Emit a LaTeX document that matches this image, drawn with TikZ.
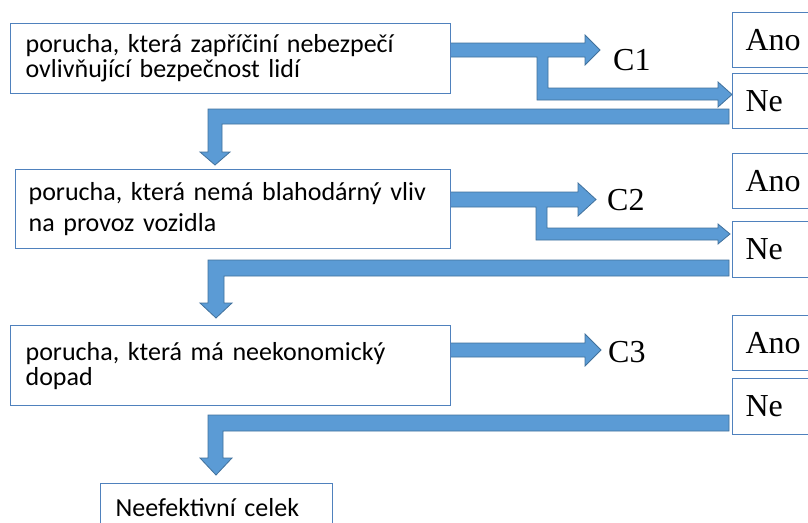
\documentclass[tikz,border=0pt]{standalone}
\usepackage{fontspec}
\setmainfont{Carlito}
\newfontfamily\serifx{Liberation Serif}
\definecolor{arrowfill}{HTML}{5B9BD5}
\definecolor{arrowline}{HTML}{41719C}
\definecolor{boxline}{HTML}{4F81BD}
\begin{document}
\begin{tikzpicture}[x=1pt,y=-1pt,
  blockarrow/.style={fill=arrowfill, draw=arrowline, line width=0.8pt, line join=miter},
  qbox/.style={draw=boxline, line width=1.2pt, fill=white, anchor=north west, inner ysep=0pt, align=left},
  ansbox/.style={draw=boxline, line width=1.2pt, fill=white, anchor=north west, inner ysep=0pt, inner xsep=13pt,
    text width=64pt, minimum height=55pt, align=left, font=\serifx\fontsize{32}{36}\selectfont},
  clabel/.style={anchor=base west, inner sep=0pt, font=\serifx\fontsize{32}{36}\selectfont}]
\clip (0,0) rectangle (808,522);
\fill[white] (0,0) rectangle (808,522);

% arrows
\path[blockarrow] (450,43) -- (585,43) -- (585,35) -- (600,50) -- (585,65) -- (585,57) -- (548,57) -- (548,88) -- (718,88) -- (718,82) -- (732,94.5) -- (718,107) -- (718,100) -- (537,100) -- (537,57) -- (450,57) -- cycle;
\path[blockarrow] (729,109) -- (729,124) -- (222,124) -- (222,152) -- (230,152) -- (215,165) -- (200,152) -- (208,152) -- (208,109) -- cycle;
\path[blockarrow] (450,192) -- (578,192) -- (578,183) -- (596,199.5) -- (578,216) -- (578,207) -- (547,207) -- (547,228) -- (718,228) -- (718,224) -- (730,234) -- (718,244) -- (718,240) -- (536,240) -- (536,207) -- (450,207) -- cycle;
\path[blockarrow] (729,260) -- (729,276) -- (224,276) -- (224,303) -- (232,303) -- (216,318) -- (200,303) -- (208,303) -- (208,260) -- cycle;
\path[blockarrow] (450,343) -- (585,343) -- (585,334) -- (601,350) -- (585,366) -- (585,357) -- (450,357) -- cycle;
\path[blockarrow] (729,415) -- (729,431) -- (223,431) -- (223,458) -- (232,458) -- (216,475) -- (200,458) -- (208,458) -- (208,415) -- cycle;

% question boxes
\node[qbox, inner xsep=15pt, text width=410pt, minimum height=70pt, font=\fontsize{26}{25}\selectfont] (b1) at (10,23)
  {porucha, která zapříčiní nebezpečí\\ovlivňující bezpečnost lidí};
\node[qbox, inner xsep=13pt, text width=409pt, minimum height=79pt, font=\fontsize{26}{31}\selectfont] (b2) at (15,169)
  {porucha, která nemá blahodárný vliv\\na provoz vozidla};
\node[qbox, inner xsep=15pt, text width=410pt, minimum height=80pt, font=\fontsize{26}{25}\selectfont] (b3) at (10,325)
  {porucha, která má neekonomický\\dopad};
\node[qbox, inner xsep=15pt, text width=202pt, minimum height=48pt, font=\fontsize{26}{25}\selectfont] (b4) at (100,483)
  {Neefektivní celek};
\path[draw=boxline, line width=1.2pt] (b4.south west) -- ++(0,20) (b4.south east) -- ++(0,20);

% answer boxes
\node[ansbox] (ano1) at (732,12) {Ano};
\node[ansbox] (ne1) at (732,73) {Ne};
\node[ansbox] (ano2) at (732,153) {Ano};
\node[ansbox, minimum height=56pt] (ne2) at (732,221) {Ne};
\node[ansbox] (ano3) at (732,315) {Ano};
\node[ansbox, minimum height=56pt] (ne3) at (732,378) {Ne};

% labels
\node[clabel] (c1) at (613,70) {C1};
\node[clabel] (c2) at (607,210) {C2};
\node[clabel] (c3) at (608,362) {C3};
\end{tikzpicture}
\end{document}
